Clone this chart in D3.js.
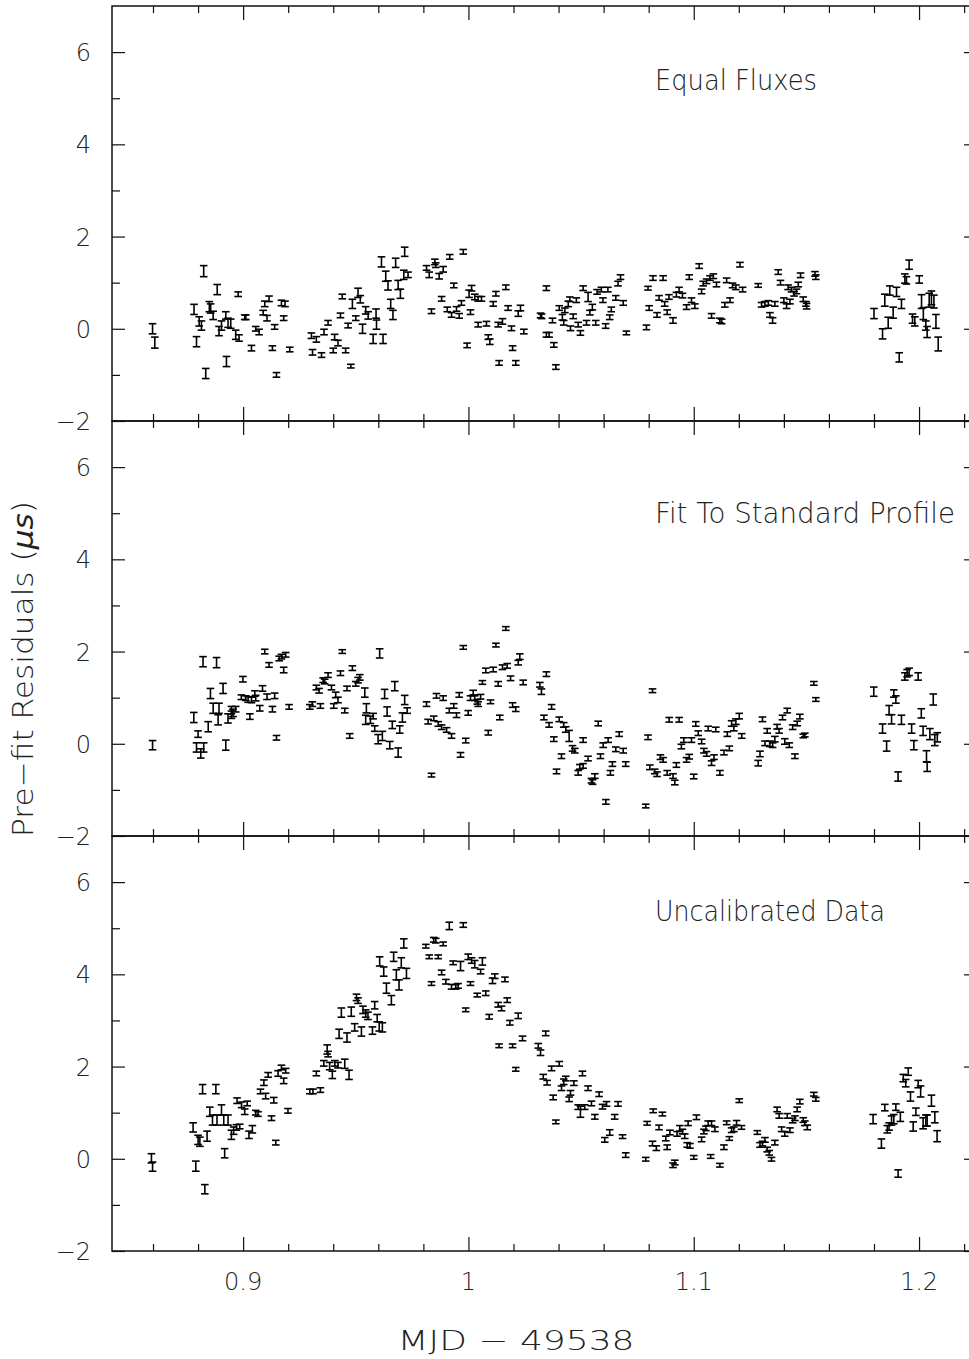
<!DOCTYPE html>
<html>
<head>
<meta charset="utf-8">
<script src="https://cdn.jsdelivr.net/npm/d3@7"></script>
<style>
  body { margin: 0; background: #fff; }
  svg { display: block; }
</style>
</head>
<body>
<script>
// DATA SECTION

// [MJD - 49538, residual (us), error (us)]
let equalFluxes = [
  [0.8598,0.00,0.11],[0.8608,-0.30,0.12],[0.8825,1.25,0.12],[0.8782,0.42,0.11],[0.8793,-0.28,0.11],[0.8834,-0.97,0.11],
  [0.8885,0.85,0.11],[0.8850,0.48,0.11],[0.8856,0.44,0.10],[0.8805,0.16,0.10],[0.8815,0.07,0.10],[0.8867,0.29,0.09],
  [0.8893,-0.05,0.10],[0.8904,0.07,0.10],[0.8923,0.29,0.08],[0.8933,0.13,0.10],[0.8945,0.11,0.10],[0.8926,-0.71,0.11],
  [0.8967,-0.13,0.10],[0.8982,-0.20,0.07],[0.8978,0.75,0.05],[0.9007,0.25,0.05],[0.9012,0.25,0.05],[0.9037,-0.42,0.06],
  [0.9056,0.00,0.05],[0.9071,-0.07,0.06],[0.9096,0.54,0.06],[0.9115,0.65,0.06],[0.9089,0.35,0.05],[0.9106,0.23,0.06],
  [0.9140,0.04,0.05],[0.9130,-0.42,0.05],[0.9148,-1.00,0.05],[0.9170,0.56,0.06],[0.9186,0.54,0.06],[0.9180,0.23,0.05],
  [0.9207,-0.45,0.05],[0.9303,-0.15,0.06],[0.9308,-0.51,0.06],[0.9325,-0.23,0.06],[0.9348,-0.57,0.05],[0.9359,-0.07,0.06],
  [0.9377,0.13,0.05],[0.9400,-0.47,0.05],[0.9406,-0.18,0.06],[0.9421,-0.31,0.06],[0.9455,-0.47,0.05],[0.9440,0.70,0.05],
  [0.9432,0.29,0.05],[0.9466,0.07,0.05],[0.9478,-0.81,0.04],[0.9485,0.54,0.10],[0.9510,0.78,0.10],[0.9520,0.64,0.08],
  [0.9500,0.23,0.05],[0.9530,0.00,0.10],[0.9544,0.40,0.08],[0.9555,0.29,0.08],[0.9577,-0.22,0.10],[0.9592,0.09,0.10],
  [0.9590,0.33,0.10],[0.9621,-0.22,0.10],[0.9614,1.45,0.11],[0.9633,1.14,0.11],[0.9643,0.94,0.10],[0.9677,1.43,0.10],
  [0.9688,0.95,0.10],[0.9698,0.76,0.10],[0.9655,0.54,0.10],[0.9665,0.30,0.10],[0.9717,1.67,0.10],[0.9713,1.17,0.10],
  [0.9732,1.17,0.06],
  [0.9814,1.32,0.05],[0.9826,1.17,0.06],[0.9851,1.45,0.06],[0.9855,1.38,0.05],[0.9870,1.14,0.06],[0.9888,1.29,0.06],
  [0.9917,1.56,0.05],[0.9977,1.67,0.05],[0.9881,0.65,0.05],[0.9836,0.38,0.05],[0.9906,0.42,0.05],[0.9925,0.30,0.05],
  [0.9947,0.43,0.05],[0.9959,0.28,0.05],[0.9935,0.94,0.05],[0.9969,0.56,0.05],[0.9994,-0.36,0.05],[1.0014,0.88,0.06],
  [1.0003,0.76,0.08],[1.0028,0.69,0.06],[1.0043,0.65,0.05],[1.0058,0.65,0.05],[1.0009,0.36,0.05],[1.0043,0.09,0.05],
  [1.0080,0.11,0.05],[1.0095,-0.28,0.06],[1.0088,-0.18,0.05],[1.0110,0.54,0.05],[1.0122,0.76,0.05],[1.0132,0.09,0.05],
  [1.0151,0.16,0.06],[1.0166,0.90,0.05],[1.0136,-0.74,0.05],[1.0176,0.45,0.05],[1.0191,0.01,0.05],[1.0210,-0.74,0.05],
  [1.0196,-0.42,0.05],[1.0221,0.33,0.06],[1.0231,0.45,0.06],[1.0246,-0.06,0.05],[1.0320,0.29,0.05],[1.0325,0.27,0.05],
  [1.0346,0.88,0.05],[1.0346,-0.13,0.05],[1.0358,-0.13,0.05],[1.0379,-0.35,0.05],[1.0388,-0.83,0.05],[1.0373,0.18,0.05],
  [1.0403,0.45,0.05],[1.0417,0.25,0.06],[1.0428,0.40,0.05],[1.0423,0.13,0.05],[1.0450,0.64,0.05],[1.0443,0.54,0.06],
  [1.0465,0.27,0.05],[1.0453,0.01,0.05],[1.0479,0.62,0.05],[1.0487,0.09,0.05],[1.0497,-0.09,0.05],[1.0509,0.88,0.05],
  [1.0524,0.13,0.05],[1.0531,0.69,0.10],[1.0539,0.35,0.05],[1.0550,0.47,0.06],[1.0565,0.13,0.05],[1.0571,0.80,0.05],
  [1.0590,0.85,0.05],[1.0597,0.62,0.05],[1.0609,0.06,0.05],[1.0619,0.85,0.05],[1.0627,0.25,0.05],[1.0634,0.42,0.05],
  [1.0654,0.67,0.05],[1.0664,0.98,0.05],[1.0675,1.12,0.05],[1.0687,0.56,0.05],[1.0701,-0.09,0.04],[1.0790,0.03,0.05],
  [1.0797,0.88,0.04],[1.0802,0.45,0.05],[1.0819,1.10,0.05],[1.0837,0.30,0.05],[1.0846,0.67,0.05],[1.0864,1.10,0.05],
  [1.0871,0.54,0.05],[1.0882,0.36,0.05],[1.0908,0.18,0.06],[1.0890,0.69,0.05],[1.0923,0.74,0.05],[1.0935,0.85,0.05],
  [1.0950,0.72,0.05],[1.0968,0.47,0.05],[1.0980,1.12,0.05],[1.0990,0.62,0.05],[1.1005,0.49,0.05],
  [1.1024,1.36,0.05],[1.1042,0.98,0.05],[1.1057,1.03,0.05],[1.1072,1.10,0.05],[1.1087,1.14,0.05],[1.1101,0.96,0.05],
  [1.1035,0.81,0.05],[1.1146,1.05,0.05],[1.1172,0.94,0.05],[1.1187,0.90,0.05],[1.1205,1.39,0.05],[1.1217,0.85,0.05],
  [1.1161,0.62,0.05],[1.1138,0.52,0.05],[1.1079,0.28,0.05],[1.1116,0.18,0.05],[1.1124,0.16,0.05],[1.1286,0.94,0.04],
  [1.1301,0.52,0.05],[1.1316,0.54,0.05],[1.1331,0.56,0.05],[1.1360,0.54,0.05],[1.1338,0.30,0.05],[1.1350,0.18,0.06],
  [1.1375,1.23,0.05],[1.1385,1.00,0.05],[1.1400,0.62,0.05],[1.1412,0.49,0.05],[1.1419,0.90,0.05],[1.1434,0.85,0.05],
  [1.1445,0.76,0.05],[1.1456,0.81,0.05],[1.1464,0.96,0.05],[1.1427,0.59,0.05],[1.1474,1.16,0.05],[1.1486,0.64,0.05],
  [1.1498,0.54,0.05],[1.1501,0.49,0.06],[1.1538,1.19,0.05],[1.1542,1.12,0.05],
  [1.1800,0.33,0.11],[1.1838,-0.11,0.11],[1.1848,0.62,0.13],[1.1863,0.13,0.12],[1.1870,0.83,0.10],[1.1885,0.35,0.12],
  [1.1900,0.80,0.10],[1.1912,-0.62,0.10],[1.1922,0.54,0.10],[1.1937,1.09,0.10],[1.1944,1.05,0.08],[1.1956,1.39,0.10],
  [1.1971,0.22,0.10],[1.1981,0.16,0.10],[1.2001,1.07,0.08],[1.2011,0.59,0.15],[1.2019,0.33,0.13],[1.2030,0.07,0.10],
  [1.2036,-0.07,0.12],[1.2045,0.62,0.15],[1.2055,0.67,0.15],[1.2066,0.59,0.14],[1.2075,0.16,0.15],[1.2085,-0.33,0.15]
];

let standardProfile = [
  [0.8598,-0.03,0.10],[0.8781,0.57,0.11],[0.8800,0.21,0.07],[0.8793,-0.08,0.10],[0.8825,-0.08,0.10],[0.8812,-0.21,0.10],
  [0.8822,1.78,0.11],[0.8882,1.76,0.11],[0.8845,0.37,0.11],[0.8855,1.09,0.11],[0.8867,0.77,0.11],[0.8893,0.77,0.11],
  [0.8889,0.52,0.11],[0.8911,1.20,0.11],[0.8923,-0.03,0.11],[0.8933,0.55,0.10],[0.8948,0.73,0.08],[0.8955,0.67,0.08],
  [0.8967,0.75,0.06],[0.8948,0.63,0.08],[0.8999,1.40,0.06],[0.8992,1.01,0.05],[0.9012,0.99,0.05],[0.9022,0.96,0.06],
  [0.9037,0.95,0.06],[0.9052,1.09,0.06],[0.9056,0.99,0.06],[0.9030,0.59,0.06],[0.9074,0.77,0.06],[0.9086,1.20,0.06],
  [0.9096,2.00,0.05],[0.9106,1.02,0.06],[0.9115,1.71,0.05],[0.9130,0.75,0.06],[0.9140,1.04,0.06],[0.9148,0.13,0.05],
  [0.9160,1.85,0.05],[0.9170,1.89,0.05],[0.9189,1.93,0.05],[0.9180,1.60,0.06],[0.9204,0.80,0.05],[0.9296,0.80,0.05],
  [0.9307,0.86,0.05],[0.9343,0.82,0.05],[0.9325,1.22,0.05],[0.9337,1.15,0.05],[0.9355,1.38,0.05],[0.9362,1.35,0.05],
  [0.9377,1.49,0.05],[0.9392,1.22,0.05],[0.9402,0.82,0.05],[0.9411,1.06,0.06],[0.9421,0.95,0.06],[0.9432,1.53,0.05],
  [0.9440,2.00,0.04],[0.9451,0.72,0.05],[0.9461,1.20,0.05],[0.9473,0.17,0.05],[0.9485,1.64,0.05],[0.9500,1.30,0.05],
  [0.9510,1.38,0.06],[0.9518,1.44,0.06],[0.9540,1.11,0.10],[0.9547,0.77,0.10],[0.9544,0.52,0.10],[0.9565,0.52,0.08],
  [0.9577,0.60,0.06],[0.9584,0.33,0.06],[0.9599,0.10,0.10],[0.9606,1.96,0.10],[0.9628,1.08,0.10],[0.9639,0.70,0.10],
  [0.9618,0.17,0.10],[0.9651,-0.03,0.08],[0.9662,0.41,0.08],[0.9673,1.25,0.10],[0.9688,-0.19,0.10],[0.9695,0.31,0.08],
  [0.9707,0.57,0.10],[0.9717,0.95,0.10],[0.9728,0.72,0.06],
  [0.9836,-0.68,0.04],[0.9814,0.86,0.05],[0.9821,0.48,0.05],[0.9846,0.55,0.05],[0.9858,1.04,0.05],[0.9866,0.43,0.05],
  [0.9881,0.36,0.05],[0.9888,0.99,0.05],[0.9903,0.30,0.05],[0.9915,0.72,0.05],[0.9925,0.17,0.05],[0.9935,0.82,0.05],
  [0.9947,0.62,0.05],[0.9959,1.06,0.05],[0.9965,-0.24,0.05],[0.9977,2.09,0.04],[0.9988,0.07,0.05],[0.9999,0.67,0.05],
  [1.0009,0.99,0.05],[1.0021,1.11,0.05],[1.0028,0.99,0.05],[1.0039,0.91,0.05],[1.0043,0.86,0.05],[1.0054,1.02,0.05],
  [1.0062,1.33,0.04],[1.0077,1.59,0.05],[1.0088,0.24,0.05],[1.0098,0.91,0.04],[1.0110,1.61,0.05],[1.0122,2.14,0.04],
  [1.0132,1.30,0.05],[1.0139,0.57,0.05],[1.0151,1.66,0.05],[1.0172,1.69,0.05],[1.0187,1.42,0.05],[1.0166,2.50,0.04],
  [1.0196,0.84,0.05],[1.0210,0.75,0.05],[1.0221,1.76,0.05],[1.0228,1.89,0.06],[1.0243,1.33,0.05],[1.0317,1.28,0.05],
  [1.0324,1.13,0.06],[1.0346,1.51,0.05],[1.0369,0.80,0.05],[1.0335,0.57,0.05],[1.0358,0.41,0.05],[1.0379,0.10,0.05],
  [1.0391,-0.60,0.05],[1.0403,0.53,0.05],[1.0413,-0.27,0.05],[1.0423,0.41,0.05],[1.0432,0.31,0.06],[1.0447,0.17,0.12],
  [1.0462,-0.10,0.06],[1.0472,-0.15,0.05],[1.0487,-0.63,0.05],[1.0494,-0.50,0.05],[1.0509,-0.48,0.05],[1.0509,0.08,0.05],
  [1.0531,-0.32,0.05],[1.0546,-0.80,0.05],[1.0551,-0.83,0.05],[1.0561,-0.70,0.05],[1.0576,0.44,0.05],[1.0586,-0.27,0.05],
  [1.0598,-0.03,0.05],[1.0610,-1.26,0.05],[1.0620,0.08,0.05],[1.0630,-0.63,0.05],[1.0639,-0.44,0.05],[1.0654,-0.12,0.05],
  [1.0669,0.21,0.05],[1.0687,-0.15,0.05],[1.0698,-0.44,0.05],[1.0787,-1.35,0.04],[1.0797,0.14,0.05],[1.0817,1.15,0.04],
  [1.0805,-0.51,0.05],[1.0827,-0.60,0.05],[1.0837,-0.66,0.05],[1.0852,-0.29,0.05],[1.0864,-0.35,0.05],[1.0882,-0.63,0.05],
  [1.0891,0.52,0.05],[1.0908,-0.70,0.05],[1.0916,-0.84,0.05],[1.0923,-0.46,0.05],[1.0935,0.52,0.05],[1.0945,-0.06,0.05],
  [1.0956,0.08,0.05],[1.0968,-0.35,0.05],[1.0980,-0.28,0.05],[1.0990,0.08,0.05],[1.1000,-0.71,0.05],[1.1009,0.43,0.05],
  [1.1020,0.23,0.05],[1.1035,0.05,0.05],[1.1045,-0.15,0.05],[1.1057,-0.22,0.05],[1.1064,0.33,0.05],[1.1079,-0.42,0.05],
  [1.1090,-0.29,0.05],[1.1098,0.31,0.05],[1.1116,-0.63,0.05],[1.1134,-0.19,0.05],[1.1149,0.21,0.05],[1.1158,-0.10,0.05],
  [1.1168,0.44,0.06],[1.1178,0.33,0.05],[1.1187,0.48,0.06],[1.1202,0.60,0.06],[1.1213,0.17,0.05],[1.1286,-0.42,0.06],
  [1.1294,-0.22,0.06],[1.1305,0.53,0.05],[1.1316,0.01,0.05],[1.1326,0.28,0.05],[1.1338,0.00,0.06],[1.1350,-0.03,0.05],
  [1.1360,0.10,0.06],[1.1370,0.37,0.05],[1.1379,0.28,0.05],[1.1394,0.57,0.05],[1.1404,0.05,0.06],[1.1415,0.72,0.05],
  [1.1424,-0.03,0.05],[1.1439,0.36,0.05],[1.1449,-0.27,0.05],[1.1459,0.44,0.05],[1.1471,0.59,0.05],[1.1486,0.17,0.04],
  [1.1493,0.19,0.04],[1.1533,1.31,0.04],[1.1542,0.96,0.04],
  [1.1799,1.13,0.10],[1.1838,0.33,0.10],[1.1856,-0.05,0.11],[1.1867,0.73,0.10],[1.1878,0.53,0.10],[1.1888,1.09,0.08],
  [1.1897,0.96,0.08],[1.1907,-0.71,0.10],[1.1922,0.52,0.10],[1.1937,1.46,0.08],[1.1947,1.53,0.08],[1.1956,1.56,0.08],
  [1.1967,0.33,0.10],[1.1977,-0.03,0.10],[1.1996,1.46,0.08],[1.2010,0.66,0.10],[1.2018,0.28,0.10],[1.2033,-0.27,0.12],
  [1.2036,-0.50,0.10],[1.2048,0.21,0.12],[1.2063,0.96,0.12],[1.2070,0.08,0.12],[1.2081,0.14,0.10]
];

let uncalibrated = [
  [0.8593,0.01,0.10],[0.8598,-0.17,0.10],[0.8778,0.68,0.10],[0.8790,-0.16,0.11],[0.8800,0.41,0.10],[0.8808,0.37,0.10],
  [0.8830,-0.66,0.10],[0.8820,1.51,0.10],[0.8879,1.51,0.10],[0.8840,0.49,0.11],[0.8852,1.02,0.10],[0.8864,0.84,0.11],
  [0.8884,0.84,0.11],[0.8904,1.06,0.11],[0.8914,0.84,0.11],[0.8933,0.84,0.11],[0.8918,0.12,0.10],[0.8948,0.52,0.10],
  [0.8958,0.61,0.08],[0.8970,0.68,0.06],[0.8985,0.70,0.05],[0.8973,1.26,0.06],[0.8993,1.17,0.06],[0.9007,1.02,0.06],
  [0.9018,1.20,0.05],[0.9026,0.52,0.08],[0.9041,0.64,0.08],[0.9056,1.00,0.05],[0.9066,0.97,0.05],[0.9077,1.46,0.05],
  [0.9092,1.65,0.06],[0.9100,1.36,0.06],[0.9111,1.82,0.05],[0.9126,0.88,0.05],[0.9136,1.27,0.06],[0.9145,0.35,0.05],
  [0.9155,1.85,0.06],[0.9170,1.98,0.05],[0.9180,1.69,0.06],[0.9189,1.91,0.05],[0.9199,1.04,0.05],[0.9296,1.46,0.05],
  [0.9310,1.46,0.05],[0.9325,1.85,0.05],[0.9343,1.49,0.05],[0.9358,2.07,0.06],[0.9373,2.37,0.10],[0.9377,2.27,0.06],
  [0.9384,2.01,0.08],[0.9396,1.82,0.08],[0.9407,2.07,0.06],[0.9421,2.03,0.06],[0.9451,2.06,0.10],[0.9470,1.82,0.10],
  [0.9426,2.71,0.10],[0.9436,3.17,0.10],[0.9461,2.63,0.10],[0.9480,3.19,0.10],[0.9503,3.50,0.07],[0.9510,3.43,0.06],
  [0.9495,2.85,0.08],[0.9525,2.76,0.10],[0.9532,3.23,0.08],[0.9544,3.15,0.08],[0.9554,3.10,0.08],[0.9574,2.78,0.08],
  [0.9584,3.33,0.08],[0.9595,3.05,0.08],[0.9604,2.87,0.10],[0.9618,2.85,0.10],[0.9606,4.28,0.10],[0.9624,4.06,0.10],
  [0.9636,3.70,0.11],[0.9658,3.44,0.10],[0.9668,4.38,0.10],[0.9680,3.99,0.11],[0.9692,3.77,0.11],[0.9702,4.25,0.11],
  [0.9713,4.67,0.10],[0.9725,4.02,0.11],
  [0.9811,4.61,0.04],[0.9836,3.80,0.04],[0.9826,4.38,0.04],[0.9846,4.75,0.05],[0.9855,4.73,0.05],[0.9866,4.38,0.04],
  [0.9881,4.04,0.05],[0.9888,4.66,0.04],[0.9900,3.84,0.05],[0.9915,5.05,0.08],[0.9932,4.25,0.04],[0.9925,3.73,0.05],
  [0.9944,3.73,0.05],[0.9954,3.75,0.05],[0.9965,4.18,0.10],[0.9977,5.07,0.05],[0.9988,3.23,0.04],[0.9999,4.38,0.06],
  [1.0009,3.80,0.04],[1.0014,4.30,0.06],[1.0028,4.22,0.08],[1.0039,3.55,0.04],[1.0054,4.06,0.05],[1.0062,4.28,0.08],
  [1.0077,3.59,0.05],[1.0092,3.08,0.05],[1.0107,3.86,0.06],[1.0117,3.96,0.05],[1.0132,3.34,0.05],[1.0147,3.26,0.05],
  [1.0162,3.89,0.05],[1.0172,3.44,0.05],[1.0184,2.95,0.05],[1.0196,2.45,0.04],[1.0210,1.94,0.04],[1.0136,2.45,0.04],
  [1.0221,3.10,0.06],[1.0240,2.61,0.05],[1.0310,2.45,0.05],[1.0320,2.30,0.06],[1.0343,2.72,0.05],[1.0332,1.78,0.05],
  [1.0349,1.65,0.05],[1.0369,1.96,0.05],[1.0376,1.33,0.05],[1.0388,0.80,0.04],[1.0403,2.06,0.05],[1.0413,1.53,0.05],
  [1.0423,1.67,0.06],[1.0432,1.74,0.05],[1.0447,1.29,0.05],[1.0453,1.43,0.05],[1.0468,1.64,0.05],[1.0487,1.12,0.05],
  [1.0497,1.02,0.12],[1.0506,1.85,0.05],[1.0516,1.12,0.05],[1.0531,1.53,0.05],[1.0546,1.20,0.05],[1.0561,0.91,0.05],
  [1.0580,1.40,0.05],[1.0595,1.13,0.05],[1.0613,1.19,0.05],[1.0605,0.41,0.05],[1.0627,0.57,0.06],[1.0649,0.91,0.05],
  [1.0664,1.19,0.05],[1.0684,0.48,0.04],[1.0698,0.08,0.05],[1.0787,-0.01,0.04],[1.0793,0.77,0.04],[1.0820,1.04,0.04],
  [1.0817,0.33,0.05],[1.0834,0.23,0.05],[1.0846,0.68,0.05],[1.0861,0.97,0.04],[1.0876,0.44,0.05],[1.0882,0.25,0.05],
  [1.0894,0.57,0.05],[1.0908,-0.14,0.05],[1.0916,-0.08,0.05],[1.0926,0.54,0.05],[1.0938,0.66,0.06],[1.0950,0.59,0.05],
  [1.0960,0.49,0.05],[1.0971,0.30,0.05],[1.0983,0.28,0.05],[1.0975,0.77,0.05],[1.1000,0.03,0.04],[1.1012,0.90,0.05],
  [1.1035,0.42,0.05],[1.1045,0.59,0.05],[1.1054,0.66,0.05],[1.1064,0.77,0.05],[1.1079,0.77,0.05],[1.1075,0.05,0.04],
  [1.1094,0.64,0.05],[1.1116,-0.14,0.04],[1.1134,0.25,0.05],[1.1146,0.78,0.04],[1.1158,0.44,0.04],[1.1168,0.62,0.05],
  [1.1178,0.64,0.05],[1.1190,0.78,0.05],[1.1202,1.26,0.04],[1.1212,0.68,0.04],[1.1282,0.57,0.04],[1.1294,0.30,0.05],
  [1.1305,0.33,0.05],[1.1316,0.41,0.05],[1.1326,0.20,0.05],[1.1335,0.13,0.05],[1.1345,-0.01,0.04],[1.1360,0.35,0.05],
  [1.1370,1.07,0.05],[1.1379,0.93,0.05],[1.1390,0.64,0.05],[1.1404,0.54,0.05],[1.1415,0.93,0.05],[1.1427,0.62,0.05],
  [1.1439,0.83,0.05],[1.1449,0.88,0.05],[1.1459,1.07,0.05],[1.1471,1.24,0.05],[1.1486,0.84,0.05],[1.1493,0.77,0.05],
  [1.1504,0.68,0.05],[1.1533,1.40,0.04],[1.1542,1.29,0.04],
  [1.1796,0.86,0.10],[1.1833,0.33,0.10],[1.1848,1.11,0.07],[1.1859,0.64,0.08],[1.1867,0.70,0.08],[1.1878,0.83,0.10],
  [1.1888,0.86,0.10],[1.1897,1.12,0.07],[1.1907,-0.32,0.08],[1.1917,0.91,0.10],[1.1930,1.75,0.08],[1.1941,1.64,0.08],
  [1.1952,1.89,0.08],[1.1962,1.35,0.10],[1.1974,0.70,0.10],[1.1986,1.02,0.08],[1.1996,1.62,0.08],[1.2007,1.46,0.12],
  [1.2018,0.77,0.12],[1.2030,0.83,0.12],[1.2036,0.83,0.12],[1.2055,1.26,0.12],[1.2070,0.90,0.12],[1.2080,0.49,0.12]
];

let panelTitles = ['Equal Fluxes', 'Fit To Standard Profile', 'Uncalibrated Data'];
let xMajorTicks = [0.9, 1.0, 1.1, 1.2];
let xTickLabels = ['0.9', '1', '1.1', '1.2'];
let yMajorTicks = [-2, 0, 2, 4, 6];
let yMinorTicks = [-1, 1, 3, 5];

// LAYOUT SECTION

let W = 969, H = 1359;
let plotLeft = 112, plotRight = 972, plotTop = 6, panelH = 415;
let ink = '#111';
let textInk = '#222';
let font = '"DejaVu Sans", sans-serif';

let svg = d3.select('body').append('svg')
  .attr('width', W)
  .attr('height', H)
  .attr('viewBox', `0 0 ${W} ${H}`);

let x = d3.scaleLinear()
  .domain([0.8418, 1.2235])
  .range([plotLeft, plotRight]);

// minor x ticks every 0.02 inside the domain
let xMinorTicks = d3.range(0.86, 1.23, 0.02)
  .filter(v => !xMajorTicks.some(m => Math.abs(m - v) < 1e-6));

let stripAxis = g => {
  g.select('.domain').remove();
  g.selectAll('.tick line').attr('stroke', ink).attr('stroke-width', 1.2);
};

// thin light text, squeezed to the width the plot uses
let lightText = (t, size, len) => t
  .attr('font-family', font)
  .attr('font-size', size)
  .attr('font-weight', 300)
  .attr('fill', textInk)
  .attr('textLength', len)
  .attr('lengthAdjust', 'spacingAndGlyphs');

// one panel: frame, ticks, error bars, title
function addPanel(selection, dat, title, i, titleY, titleLen) {
  let y0 = plotTop + i * panelH;
  let y1 = y0 + panelH;
  let y = d3.scaleLinear().domain([-2, 7]).range([y1, y0]);

  let g = selection.append('g').attr('class', 'panel');

  // frame
  g.append('rect')
    .attr('x', plotLeft)
    .attr('y', y0)
    .attr('width', plotRight - plotLeft)
    .attr('height', panelH)
    .attr('fill', 'none')
    .attr('stroke', ink)
    .attr('stroke-width', 1.5);

  // top ticks (pointing down)
  g.append('g').attr('transform', `translate(0,${y0})`)
    .call(d3.axisBottom(x).tickValues(xMajorTicks).tickSize(14).tickFormat(''))
    .call(stripAxis);
  g.append('g').attr('transform', `translate(0,${y0})`)
    .call(d3.axisBottom(x).tickValues(xMinorTicks).tickSize(7).tickFormat(''))
    .call(stripAxis);
  // bottom ticks (pointing up)
  g.append('g').attr('transform', `translate(0,${y1})`)
    .call(d3.axisTop(x).tickValues(xMajorTicks).tickSize(14).tickFormat(''))
    .call(stripAxis);
  g.append('g').attr('transform', `translate(0,${y1})`)
    .call(d3.axisTop(x).tickValues(xMinorTicks).tickSize(7).tickFormat(''))
    .call(stripAxis);

  // left ticks + labels
  g.append('g').attr('transform', `translate(${plotLeft},0)`)
    .call(d3.axisLeft(y).tickValues(yMajorTicks).tickSizeInner(-13).tickSizeOuter(0).tickPadding(21)
      .tickFormat(d => d < 0 ? '\u2212' + Math.abs(d) : d))
    .call(stripAxis)
    .call(a => a.selectAll('.tick text')
      .attr('font-family', font)
      .attr('font-size', 24)
      .attr('font-weight', 300)
      .attr('fill', textInk)
      .attr('dy', '0.36em'));
  g.append('g').attr('transform', `translate(${plotLeft},0)`)
    .call(d3.axisRight(y).tickValues(yMinorTicks).tickSize(8).tickFormat(''))
    .call(stripAxis);

  // right ticks (pointing left)
  g.append('g').attr('transform', `translate(${plotRight},0)`)
    .call(d3.axisLeft(y).tickValues(yMajorTicks).tickSize(8).tickFormat(''))
    .call(stripAxis);

  // error bars
  let cap = 3.8;
  let bars = g.selectAll('g.bar')
    .data(dat)
    .enter().append('g')
    .attr('class', 'bar')
    .attr('stroke', '#000')
    .attr('stroke-width', 1.6)
    .attr('fill', 'none');
  bars.append('line')
    .attr('x1', d => x(d[0])).attr('x2', d => x(d[0]))
    .attr('y1', d => y(d[1] - d[2])).attr('y2', d => y(d[1] + d[2]));
  bars.append('line')
    .attr('x1', d => x(d[0]) - cap).attr('x2', d => x(d[0]) + cap)
    .attr('y1', d => y(d[1] - d[2])).attr('y2', d => y(d[1] - d[2]));
  bars.append('line')
    .attr('x1', d => x(d[0]) - cap).attr('x2', d => x(d[0]) + cap)
    .attr('y1', d => y(d[1] + d[2])).attr('y2', d => y(d[1] + d[2]));

  // panel title
  g.append('text')
    .attr('x', 655)
    .attr('y', titleY)
    .call(lightText, 29, titleLen)
    .text(title);
}

// RENDER SECTION

svg.append('rect').attr('width', W).attr('height', H).attr('fill', '#fff');

let panelData = [equalFluxes, standardProfile, uncalibrated];
let titleYs = [90, 523, 921];
let titleLens = [162, 300, 230];
panelData.forEach((dat, i) => svg.call(addPanel, dat, panelTitles[i], i, titleYs[i], titleLens[i]));

// x tick labels under the last panel
svg.append('g')
  .selectAll('text')
  .data(xMajorTicks)
  .enter().append('text')
  .attr('x', d => x(d))
  .attr('y', 1290)
  .attr('text-anchor', 'middle')
  .attr('font-family', font)
  .attr('font-size', 24)
  .attr('font-weight', 300)
  .attr('fill', textInk)
  .text((d, i) => xTickLabels[i]);

// x axis title
svg.append('text')
  .attr('x', 516)
  .attr('y', 1350)
  .attr('text-anchor', 'middle')
  .call(lightText, 27, 237)
  .text('MJD \u2212 49538');

// y axis title
let yTitle = svg.append('text')
  .attr('transform', 'translate(33,669) rotate(-90)')
  .attr('text-anchor', 'middle')
  .call(lightText, 29, 336);
yTitle.append('tspan').text('Pre\u2212fit Residuals (');
yTitle.append('tspan').attr('font-style', 'italic').text('\u03bcs');
yTitle.append('tspan').text(')');
</script>
</body>
</html>
